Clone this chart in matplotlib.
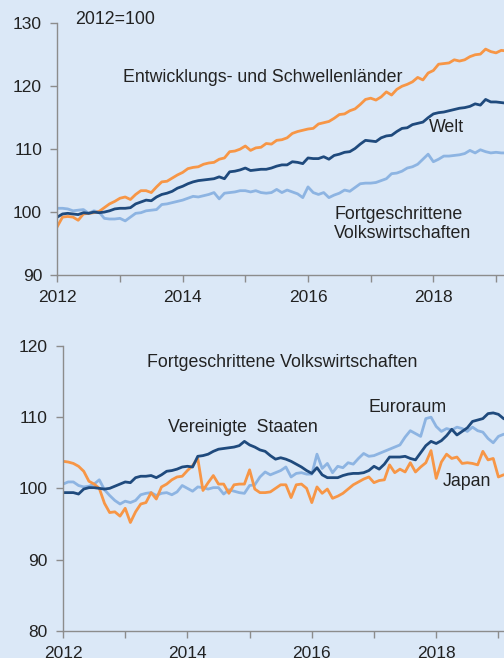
import numpy as np
import matplotlib
matplotlib.use('Agg')
import matplotlib.pyplot as plt

plt.rcParams['font.family'] = ['Liberation Sans', 'DejaVu Sans']

# monatlich, Jan 2012 bis Mar 2019
monate = 2012 + np.arange(87) / 12

# oberes Panel: 2012=100
schwellen = [97.7, 99.2, 99.3, 99.2, 98.7, 99.7, 99.8, 99.9, 100.1, 100.7, 101.3, 101.7,
             102.2, 102.4, 102.0, 102.8, 103.4, 103.4, 103.1, 104.0, 104.8, 104.9, 105.4, 105.9,
             106.3, 106.9, 107.1, 107.2, 107.6, 107.8, 107.9, 108.4, 108.6, 109.6, 109.7, 110.0,
             110.5, 109.8, 110.2, 110.3, 110.9, 110.8, 111.4, 111.5, 111.8, 112.5, 112.8, 113.0,
             113.2, 113.3, 114.0, 114.2, 114.4, 114.9, 115.5, 115.6, 116.1, 116.4, 117.1, 117.9,
             118.1, 117.8, 118.3, 119.1, 118.6, 119.5, 120.0, 120.3, 120.7, 121.4, 121.0, 122.1,
             122.5, 123.5, 123.6, 123.7, 124.2, 124.0, 124.2, 124.7, 125.0, 125.1, 125.9, 125.5,
             125.3, 125.7, 125.6]
welt = [99.2, 99.7, 99.8, 99.7, 99.6, 99.9, 99.8, 100.0, 99.9, 100.0, 100.2, 100.5,
        100.6, 100.6, 100.7, 101.3, 101.6, 101.9, 101.8, 102.4, 102.8, 103.0, 103.3, 103.8,
        104.1, 104.5, 104.8, 105.0, 105.1, 105.2, 105.3, 105.6, 105.3, 106.4, 106.5, 106.7,
        107.0, 106.6, 106.7, 106.8, 106.8, 107.0, 107.3, 107.5, 107.5, 108.0, 107.9, 107.7,
        108.6, 108.5, 108.5, 108.8, 108.4, 109.0, 109.2, 109.5, 109.6, 110.1, 110.8, 111.4,
        111.3, 111.2, 111.8, 112.1, 112.2, 112.8, 113.3, 113.4, 113.9, 114.1, 114.3, 115.0,
        115.6, 115.8, 115.9, 116.1, 116.3, 116.5, 116.6, 116.8, 117.2, 117.0, 117.9, 117.5,
        117.5, 117.4, 117.3]
fortgeschr = [100.6, 100.6, 100.5, 100.2, 100.3, 100.4, 99.8, 100.2, 100.0, 99.0, 98.9, 98.9,
              99.0, 98.6, 99.2, 99.8, 99.9, 100.2, 100.3, 100.4, 101.2, 101.3, 101.5, 101.7,
              101.9, 102.2, 102.5, 102.4, 102.6, 102.8, 103.1, 102.1, 103.0, 103.1, 103.2, 103.4,
              103.4, 103.2, 103.4, 103.1, 103.0, 103.1, 103.6, 103.1, 103.5, 103.2, 102.9, 102.3,
              104.0, 103.1, 102.8, 103.1, 102.3, 102.7, 103.0, 103.5, 103.3, 103.9, 104.5, 104.6,
              104.6, 104.7, 105.0, 105.3, 106.1, 106.2, 106.5, 107.0, 107.2, 107.6, 108.4, 109.2,
              108.0, 108.4, 108.9, 108.9, 109.0, 109.1, 109.3, 109.8, 109.4, 109.9, 109.6, 109.4,
              109.5, 109.4, 109.4]

# unteres Panel: Fortgeschrittene Volkswirtschaften
usa = [99.4, 99.4, 99.4, 99.2, 99.9, 100.1, 100.1, 100.0, 99.9, 100.0, 100.3, 100.6,
       100.9, 100.8, 101.5, 101.7, 101.7, 101.8, 101.5, 101.9, 102.4, 102.5, 102.7, 103.0,
       103.1, 103.0, 104.5, 104.6, 104.8, 105.2, 105.5, 105.6, 105.7, 105.8, 106.0, 106.6,
       106.1, 105.8, 105.4, 105.2, 104.6, 104.1, 104.3, 104.1, 103.8, 103.4, 103.0, 102.5,
       102.1, 102.9, 101.9, 101.5, 101.5, 101.5, 101.8, 102.0, 102.1, 102.1, 102.2, 102.5,
       103.1, 102.7, 103.4, 104.4, 104.4, 104.4, 104.5, 104.2, 104.0, 105.0, 106.0, 106.6,
       106.3, 106.7, 107.4, 108.3, 107.5, 108.0, 108.5, 109.4, 109.6, 109.8, 110.5, 110.6,
       110.4, 109.8, 109.5]
euroraum = [100.6, 100.9, 100.9, 100.4, 100.2, 100.3, 100.6, 101.2, 99.8, 99.0, 98.3, 97.8,
            98.2, 98.0, 98.3, 99.1, 99.3, 99.4, 99.0, 99.3, 99.4, 99.1, 99.5, 100.4,
            100.0, 99.6, 100.2, 100.1, 99.9, 100.1, 100.1, 99.2, 99.8, 99.6, 99.4, 99.3,
            100.4, 100.5, 101.6, 102.3, 101.9, 102.2, 102.5, 103.0, 101.6, 102.1, 102.2, 102.0,
            102.0, 104.8, 102.8, 103.5, 102.2, 103.1, 102.9, 103.6, 103.4, 104.2, 104.9, 104.5,
            104.6, 104.9, 105.2, 105.5, 105.8, 106.1, 107.2, 108.1, 107.7, 107.3, 109.8, 110.0,
            108.7, 108.0, 108.4, 108.2, 108.6, 108.4, 108.0, 108.6, 108.1, 107.9, 107.0, 106.4,
            107.3, 107.6, 107.6]
japan = [103.8, 103.7, 103.5, 103.1, 102.4, 101.0, 100.6, 100.0, 97.9, 96.6, 96.7, 96.1,
         97.2, 95.2, 96.7, 97.8, 98.0, 99.4, 98.5, 100.2, 100.6, 101.2, 101.6, 101.7,
         102.5, 103.2, 104.2, 99.7, 100.8, 101.8, 100.6, 100.6, 99.3, 100.5, 100.6, 100.6,
         102.6, 99.9, 99.4, 99.4, 99.5, 100.0, 100.5, 100.5, 98.7, 100.5, 100.6, 100.0,
         98.0, 100.2, 99.3, 99.9, 98.6, 98.9, 99.3, 99.9, 100.5, 100.9, 101.3, 101.6,
         100.8, 101.1, 101.2, 103.3, 102.2, 102.7, 102.3, 103.6, 102.3, 103.0, 103.6, 105.3,
         101.4, 103.7, 104.8, 104.2, 104.4, 103.5, 103.6, 103.5, 103.3, 105.2, 104.0, 104.2,
         101.6, 101.9, 101.9]

orange = '#f79646'
dunkelblau = '#1f4a7d'
hellblau = '#8db4e2'
hintergrund = '#dbe8f7'
grau = '#8c8c8c'

fig = plt.figure(figsize=(5.04, 6.58), dpi=100, facecolor=hintergrund)

def px(x, y):
    return x / 504, 1 - y / 658

def achse(links, oben, unten, ymin, ymax, ystep, xmax):
    l, t = px(links, oben)
    _, b = px(links, unten)
    ax = fig.add_axes([l, b, 1 - l, t - b])
    ax.set_facecolor(hintergrund)
    ax.set_xlim(2012, xmax)
    ax.set_ylim(ymin, ymax)
    ax.set_yticks(np.arange(ymin, ymax + 1, ystep))
    ax.set_xticks(range(2012, 2020))
    ax.set_xticklabels(['2012', '', '2014', '', '2016', '', '2018', ''])
    for s in ['top', 'right']:
        ax.spines[s].set_visible(False)
    for s in ['left', 'bottom']:
        ax.spines[s].set_color(grau)
        ax.spines[s].set_linewidth(1.0)
    ax.tick_params(colors=grau, labelcolor='#222222', labelsize=12.5, length=5, width=1.0)
    ax.tick_params(axis='x', pad=6)
    ax.tick_params(axis='y', pad=6)
    return ax

ax1 = achse(57.3, 23.3, 275, 90, 130, 10, 2019.127)
ax1.plot(monate, fortgeschr, color=hellblau, lw=2.0)
ax1.plot(monate, schwellen, color=orange, lw=2.0)
ax1.plot(monate, welt, color=dunkelblau, lw=2.0)

ax2 = achse(63, 346, 630.7, 80, 120, 10, 2019.09)
ax2.plot(monate, euroraum, color=hellblau, lw=2.0)
ax2.plot(monate, japan, color=orange, lw=2.0)
ax2.plot(monate, usa, color=dunkelblau, lw=2.0)

def label(x, y, s, ha='left'):
    fig.text(*px(x, y), s, fontsize=12.8, color='#222222', ha=ha, va='center')

label(75, 19, '2012=100')
label(123, 77, 'Entwicklungs- und Schwellenländer')
label(429, 127, 'Welt')
label(334, 214, 'Fortgeschrittene')
label(334, 234, 'Volkswirtschaften')

label(147, 362, 'Fortgeschrittene Volkswirtschaften')
label(168, 427, 'Vereinigte  Staaten')
label(368, 408, 'Euroraum')
label(443, 482, 'Japan')

fig.savefig('out.png', dpi=100, facecolor=hintergrund)
